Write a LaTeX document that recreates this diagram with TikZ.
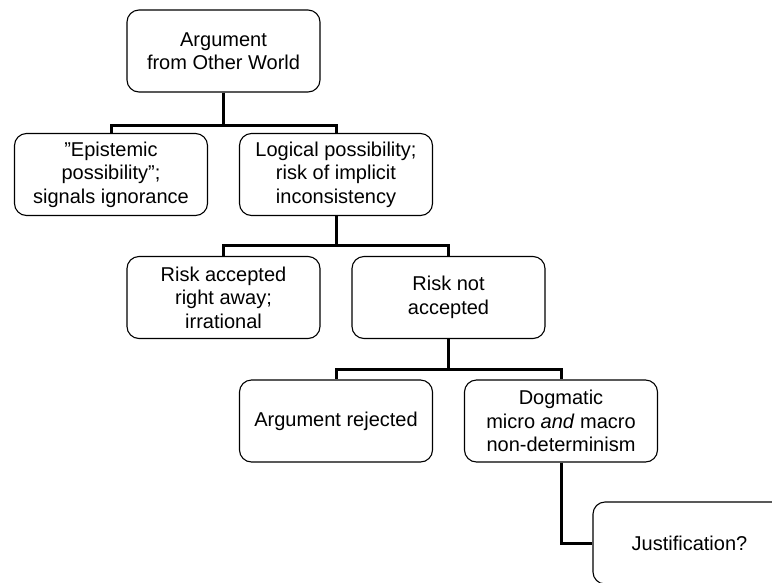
\documentclass[tikz,border=0pt]{standalone}
\usepackage{fontspec}
\setmainfont{Liberation Sans}
\begin{document}
\begin{tikzpicture}[x=1pt,y=-1pt,
  box/.style={draw=black,line width=1.1pt,rounded corners=12pt,minimum width=193pt,minimum height=82pt,align=center,inner sep=2pt,font=\fontsize{20}{23.5}\selectfont},
  conn/.style={draw=black,line width=3pt}]
\useasboundingbox (0,0) rectangle (772,582);
\clip (0,0) rectangle (772,582);
\node[box] (top) at (223.5,51) {Argument\\from Other World};
\node[box] (epi) at (111,174.5) {”Epistemic\\possibility”;\\signals ignorance};
\node[box] (log) at (336,174.5) {Logical possibility;\\risk of implicit\\inconsistency};
\node[box] (acc) at (223.5,297.5) {Risk accepted\\right away;\\irrational};
\node[box] (nacc) at (448.5,297.5) {Risk not\\accepted};
\node[box] (rej) at (336,421) {Argument rejected};
\node[box] (dog) at (561,421) {Dogmatic\\micro \textit{and} macro\\non-determinism};
\node[box] (just) at (689.5,543) {Justification?};
\draw[conn] (top.south) -- ++(0,33) -| (epi.north);
\draw[conn] (top.south) -- ++(0,33) -| (log.north);
\draw[conn] (log.south) -- ++(0,29) -| (acc.north);
\draw[conn] (log.south) -- ++(0,29) -| (nacc.north);
\draw[conn] (nacc.south) -- ++(0,30) -| (rej.north);
\draw[conn] (nacc.south) -- ++(0,30) -| (dog.north);
\draw[conn] (dog.south) |- (just.west);
\end{tikzpicture}
\end{document}
